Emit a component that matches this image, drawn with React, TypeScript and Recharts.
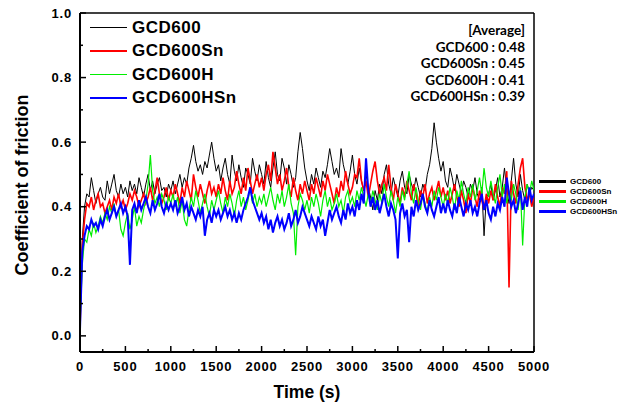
import React from 'react';
import { LineChart, Line, XAxis, YAxis, ReferenceLine } from 'recharts';

const seriesNames = ['GCD600', 'GCD600Sn', 'GCD600H', 'GCD600HSn'];
const seriesColors = ['#000000', '#ff0000', '#00ee00', '#0000ff'];
const averages = ['0.48', '0.45', '0.41', '0.39'];
const timeStep = 25;

const gcd600 = [
  0.05, 0.30, 0.40, 0.44, 0.43, 0.49, 0.45, 0.41, 0.44, 0.46, 0.43, 0.42, 0.48, 0.44, 0.47, 0.50, 0.45, 0.43, 0.47, 0.44,
  0.46, 0.43, 0.48, 0.45, 0.47, 0.44, 0.49, 0.46, 0.43, 0.47, 0.50, 0.45, 0.48, 0.44, 0.47, 0.49, 0.45, 0.46, 0.43, 0.47,
  0.45, 0.48, 0.44, 0.47, 0.50, 0.46, 0.49, 0.47, 0.52, 0.55, 0.59, 0.54, 0.51, 0.53, 0.50, 0.54, 0.52, 0.56, 0.60, 0.55,
  0.51, 0.53, 0.48, 0.52, 0.55, 0.50, 0.47, 0.56, 0.51, 0.48, 0.53, 0.49, 0.46, 0.52, 0.50, 0.47, 0.55, 0.51, 0.48, 0.53,
  0.50, 0.47, 0.54, 0.49, 0.46, 0.52, 0.57, 0.50, 0.48, 0.55, 0.52, 0.47, 0.53, 0.50, 0.46, 0.49, 0.57, 0.63, 0.58, 0.52,
  0.48, 0.45, 0.50, 0.47, 0.52, 0.49, 0.46, 0.51, 0.49, 0.53, 0.58, 0.54, 0.50, 0.52, 0.49, 0.58, 0.53, 0.50, 0.47, 0.51,
  0.56, 0.50, 0.47, 0.52, 0.48, 0.45, 0.50, 0.46, 0.43, 0.39, 0.45, 0.42, 0.47, 0.44, 0.50, 0.53, 0.47, 0.44, 0.49, 0.46,
  0.43, 0.48, 0.51, 0.46, 0.44, 0.50, 0.47, 0.45, 0.49, 0.46, 0.43, 0.47, 0.45, 0.50, 0.53, 0.58, 0.66, 0.60, 0.55, 0.51,
  0.54, 0.48, 0.46, 0.52, 0.49, 0.45, 0.50, 0.47, 0.44, 0.48, 0.46, 0.43, 0.47, 0.45, 0.49, 0.44, 0.42, 0.46, 0.31, 0.43,
  0.44, 0.47, 0.42, 0.45, 0.49, 0.43, 0.46, 0.52, 0.45, 0.41, 0.48, 0.55, 0.47, 0.43, 0.50, 0.45, 0.42, 0.47, 0.44, 0.46,
  0.45,
];

const gcd600Sn = [
  0.02, 0.28, 0.36, 0.41, 0.40, 0.43, 0.39, 0.42, 0.44, 0.40, 0.41, 0.38, 0.40, 0.42, 0.39, 0.43, 0.41, 0.44, 0.40, 0.42,
  0.39, 0.41, 0.44, 0.42, 0.45, 0.43, 0.40, 0.42, 0.44, 0.41, 0.43, 0.46, 0.42, 0.45, 0.49, 0.44, 0.41, 0.43, 0.46, 0.42,
  0.45, 0.43, 0.47, 0.44, 0.41, 0.46, 0.43, 0.48, 0.45, 0.42, 0.50, 0.46, 0.43, 0.47, 0.44, 0.41, 0.45, 0.48, 0.44, 0.46,
  0.43, 0.47, 0.44, 0.49, 0.45, 0.42, 0.48, 0.44, 0.46, 0.51, 0.47, 0.44, 0.49, 0.45, 0.52, 0.48, 0.44, 0.47, 0.50, 0.46,
  0.49, 0.45, 0.50, 0.53, 0.48, 0.57, 0.52, 0.47, 0.50, 0.45, 0.48, 0.52, 0.46, 0.43, 0.49, 0.45, 0.42, 0.47, 0.44, 0.48,
  0.45, 0.42, 0.47, 0.44, 0.49, 0.46, 0.43, 0.48, 0.45, 0.50, 0.47, 0.44, 0.41, 0.46, 0.43, 0.48, 0.45, 0.51, 0.47, 0.44,
  0.46, 0.50, 0.49, 0.55, 0.48, 0.45, 0.48, 0.43, 0.47, 0.51, 0.54, 0.48, 0.44, 0.47, 0.49, 0.45, 0.53, 0.46, 0.42, 0.47,
  0.44, 0.41, 0.46, 0.43, 0.48, 0.45, 0.42, 0.47, 0.44, 0.40, 0.45, 0.43, 0.47, 0.41, 0.44, 0.46, 0.42, 0.45, 0.48, 0.43,
  0.46, 0.42, 0.45, 0.41, 0.44, 0.47, 0.43, 0.40, 0.45, 0.42, 0.38, 0.44, 0.41, 0.46, 0.43, 0.40, 0.45, 0.42, 0.39, 0.44,
  0.41, 0.45, 0.42, 0.47, 0.43, 0.40, 0.46, 0.44, 0.51, 0.15, 0.48, 0.44, 0.41, 0.47, 0.52, 0.55, 0.46, 0.42, 0.44, 0.40,
  0.43,
];

const gcd600H = [
  0.03, 0.22, 0.30, 0.29, 0.33, 0.31, 0.35, 0.32, 0.34, 0.37, 0.35, 0.38, 0.36, 0.40, 0.38, 0.41, 0.37, 0.39, 0.33, 0.31,
  0.35, 0.38, 0.33, 0.36, 0.40, 0.34, 0.37, 0.35, 0.39, 0.42, 0.47, 0.56, 0.45, 0.41, 0.43, 0.40, 0.44, 0.42, 0.39, 0.43,
  0.41, 0.44, 0.40, 0.43, 0.38, 0.42, 0.36, 0.34, 0.39, 0.43, 0.40, 0.45, 0.42, 0.38, 0.41, 0.44, 0.40, 0.37, 0.42, 0.39,
  0.42, 0.45, 0.41, 0.38, 0.43, 0.40, 0.44, 0.41, 0.37, 0.42, 0.45, 0.40, 0.43, 0.39, 0.42, 0.46, 0.41, 0.44, 0.40, 0.43,
  0.41, 0.44, 0.40, 0.43, 0.46, 0.42, 0.39, 0.44, 0.41, 0.45, 0.40, 0.43, 0.47, 0.41, 0.38, 0.25, 0.40, 0.44, 0.42, 0.39,
  0.42, 0.38, 0.43, 0.40, 0.44, 0.41, 0.37, 0.42, 0.45, 0.40, 0.43, 0.39, 0.41, 0.44, 0.40, 0.42, 0.38, 0.43, 0.45, 0.41,
  0.43, 0.40, 0.45, 0.42, 0.46, 0.43, 0.40, 0.44, 0.41, 0.45, 0.42, 0.39, 0.44, 0.41, 0.47, 0.43, 0.40, 0.45, 0.42, 0.38,
  0.43, 0.40, 0.45, 0.42, 0.47, 0.51, 0.44, 0.41, 0.46, 0.42, 0.39, 0.44, 0.41, 0.38, 0.43, 0.40, 0.45, 0.42, 0.46, 0.43,
  0.40, 0.44, 0.41, 0.46, 0.43, 0.39, 0.45, 0.42, 0.48, 0.44, 0.41, 0.46, 0.43, 0.47, 0.42, 0.45, 0.49, 0.44, 0.52, 0.46,
  0.43, 0.48, 0.44, 0.41, 0.46, 0.50, 0.43, 0.47, 0.41, 0.45, 0.42, 0.47, 0.44, 0.39, 0.46, 0.28, 0.43, 0.47, 0.44, 0.48,
  0.45,
];

const gcd600HSn = [
  0.02, 0.26, 0.31, 0.34, 0.33, 0.36, 0.34, 0.35, 0.33, 0.36, 0.34, 0.37, 0.39, 0.36, 0.38, 0.40, 0.37, 0.39, 0.41, 0.38,
  0.40, 0.37, 0.22, 0.39, 0.41, 0.38, 0.42, 0.39, 0.41, 0.43, 0.40, 0.38, 0.42, 0.39, 0.41, 0.44, 0.40, 0.38, 0.41, 0.39,
  0.41, 0.39, 0.42, 0.38, 0.40, 0.43, 0.39, 0.41, 0.37, 0.40, 0.38, 0.36, 0.39, 0.37, 0.40, 0.31, 0.36, 0.38, 0.35, 0.39,
  0.37, 0.39, 0.36, 0.38, 0.40, 0.37, 0.39, 0.36, 0.38, 0.35, 0.38, 0.36, 0.39, 0.41, 0.43, 0.46, 0.42, 0.40, 0.38, 0.36,
  0.38, 0.35, 0.37, 0.33, 0.36, 0.32, 0.35, 0.37, 0.34, 0.36, 0.33, 0.35, 0.38, 0.34, 0.36, 0.39, 0.35, 0.37, 0.40, 0.38,
  0.36, 0.34, 0.37, 0.35, 0.33, 0.37, 0.34, 0.36, 0.31, 0.35, 0.39, 0.36, 0.38, 0.40, 0.37, 0.35, 0.39, 0.36, 0.41, 0.38,
  0.40, 0.37, 0.42, 0.39, 0.44, 0.41, 0.55, 0.45, 0.40, 0.43, 0.39, 0.42, 0.38, 0.41, 0.44, 0.40, 0.37, 0.41, 0.39, 0.36,
  0.24, 0.38, 0.41, 0.37, 0.39, 0.29, 0.40, 0.37, 0.42, 0.39, 0.41, 0.44, 0.40, 0.38, 0.42, 0.39, 0.37, 0.40, 0.43, 0.38,
  0.41, 0.38, 0.42, 0.39, 0.37, 0.41, 0.38, 0.43, 0.40, 0.37, 0.41, 0.39, 0.42, 0.38, 0.40, 0.37, 0.41, 0.44, 0.39, 0.42,
  0.38, 0.36, 0.40, 0.37, 0.41, 0.39, 0.43, 0.40, 0.49, 0.44, 0.40, 0.42, 0.38, 0.41, 0.45, 0.39, 0.43, 0.40, 0.46, 0.42,
  0.44,
];

const xTicks = [0, 250, 500, 750, 1000, 1250, 1500, 1750, 2000, 2250, 2500, 2750, 3000, 3250, 3500, 3750, 4000, 4250, 4500, 4750, 5000];
const yTicks = [0, 0.1, 0.2, 0.3, 0.4, 0.5, 0.6, 0.7, 0.8, 0.9, 1.0];
const xLabelEvery = 500;

const data = gcd600.map((v, i) => ({
  t: i * timeStep,
  s0: v,
  s1: gcd600Sn[i],
  s2: gcd600H[i],
  s3: gcd600HSn[i],
}));

const lineWidths = [1, 1.6, 1.2, 2];
const legendWidths = [1, 2.5, 1.2, 2.5];

const boldFont = '"Liberation Sans", Arial, sans-serif';
const sansFont = 'Lato, "Liberation Sans", sans-serif';

const XTick = (props: any) => {
  const { x, y, payload } = props;
  const v = payload.value;
  const major = v % xLabelEvery === 0;
  return (
    <g>
      <line x1={x} x2={x} y1={y} y2={y - (major ? 6 : 3)} stroke="#000" strokeWidth={1.5} />
      {major && (
        <text x={x} y={y + 19} textAnchor="middle" fontSize={13} fontWeight="bold" fontFamily={boldFont} letterSpacing={0.8} fill="#000">
          {v}
        </text>
      )}
    </g>
  );
};

const YTick = (props: any) => {
  const { x, y, payload } = props;
  const v = payload.value;
  const major = Math.round(v * 10) % 2 === 0;
  return (
    <g>
      <line x1={x} x2={x + (major ? 6 : 3)} y1={y} y2={y} stroke="#000" strokeWidth={1.5} />
      {major && (
        <text x={x - 8} y={y + 4.5} textAnchor="end" fontSize={13} fontWeight="bold" fontFamily={boldFont} letterSpacing={0.8} fill="#000">
          {v.toFixed(1)}
        </text>
      )}
    </g>
  );
};

export default function App() {
  return (
    <div style={{ position: 'absolute', left: 0, top: 0, width: 626, height: 408, background: '#fff' }}>
      <LineChart width={626} height={408} data={data} margin={{ top: 13, right: 92, left: 20, bottom: 26 }}>
        <XAxis
          dataKey="t"
          type="number"
          domain={[0, 5000]}
          ticks={xTicks}
          interval={0}
          tickSize={0}
          tickMargin={0}
          tickLine={false}
          tick={XTick}
          height={30}
          axisLine={{ stroke: '#000', strokeWidth: 2 }}
          allowDataOverflow
        />
        <YAxis
          type="number"
          domain={[-0.05, 1.0]}
          ticks={yTicks}
          interval={0}
          tickSize={0}
          tickMargin={0}
          tickLine={false}
          tick={YTick}
          width={60}
          axisLine={{ stroke: '#000', strokeWidth: 2 }}
          allowDataOverflow
        />
        <ReferenceLine y={1.0} stroke="#000" strokeWidth={1.5} />
        <ReferenceLine x={5000} stroke="#000" strokeWidth={1.5} />
        {seriesNames.map((name, i) => (
          <Line
            key={name}
            name={name}
            dataKey={'s' + i}
            type="linear"
            stroke={seriesColors[i]}
            strokeWidth={lineWidths[i]}
            dot={false}
            activeDot={false}
            isAnimationActive={false}
          />
        ))}
      </LineChart>

      {/* inner legend */}
      <div style={{ position: 'absolute', left: 90, top: 15.75 }}>
        {seriesNames.map((name, i) => (
          <div key={name} style={{ display: 'flex', alignItems: 'center', height: 23.5 }}>
            <div style={{ width: 37, height: legendWidths[i], background: seriesColors[i] }} />
            <span style={{ marginLeft: 5, fontFamily: boldFont, fontWeight: 'bold', fontSize: 17, letterSpacing: 0.5, color: '#000', lineHeight: '20px' }}>
              {name}
            </span>
          </div>
        ))}
      </div>

      {/* averages */}
      <div style={{ position: 'absolute', right: 101, top: 22, textAlign: 'right', fontFamily: sansFont, fontWeight: 'bold', fontSize: 13.5, lineHeight: '16.5px', color: '#000', whiteSpace: 'nowrap' }}>
        <div>[Average]</div>
        {seriesNames.map((name, i) => (
          <div key={name}>{name} : {averages[i]}</div>
        ))}
      </div>

      {/* outside legend */}
      <div style={{ position: 'absolute', left: 539, top: 177 }}>
        {seriesNames.map((name, i) => (
          <div key={name} style={{ display: 'flex', alignItems: 'center', height: 9.8 }}>
            <div style={{ width: 27, height: 3, background: seriesColors[i] }} />
            <span style={{ marginLeft: 4, fontFamily: boldFont, fontWeight: 'bold', fontSize: 8, color: '#000', lineHeight: '9px', whiteSpace: 'nowrap' }}>
              {name}
            </span>
          </div>
        ))}
      </div>

      {/* axis titles */}
      <div style={{ position: 'absolute', left: 22, top: 184.5, transform: 'translate(-50%, -50%) rotate(-90deg)', fontFamily: boldFont, fontWeight: 'bold', fontSize: 18, whiteSpace: 'nowrap', color: '#000' }}>
        Coefficient of friction
      </div>
      <div style={{ position: 'absolute', left: 307, top: 392, transform: 'translate(-50%, -50%)', fontFamily: boldFont, fontWeight: 'bold', fontSize: 17.5, whiteSpace: 'nowrap', color: '#000' }}>
        Time (s)
      </div>
    </div>
  );
}
